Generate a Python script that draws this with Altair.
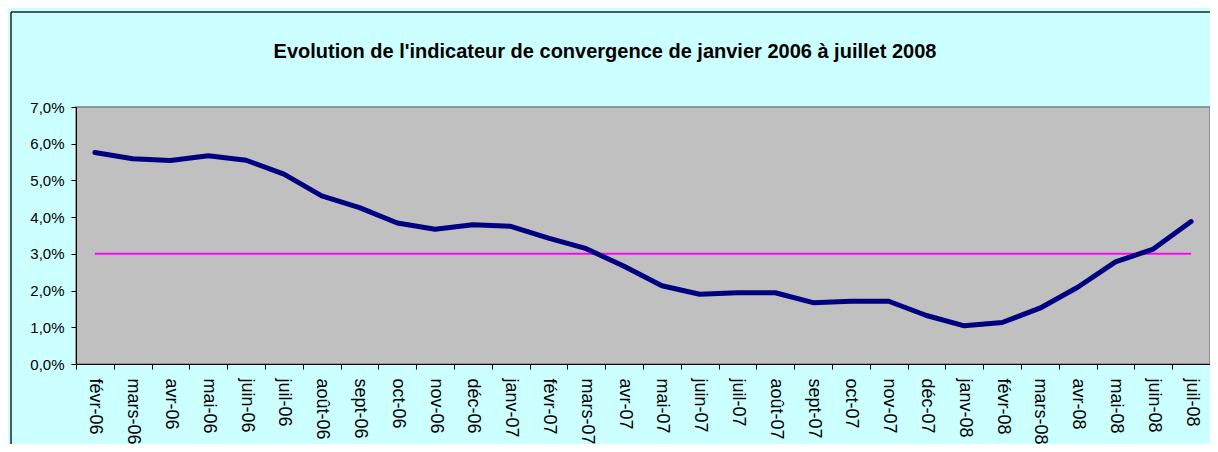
import altair as alt
import pandas as pd

mois = ["févr-06", "mars-06", "avr-06", "mai-06", "juin-06", "juil-06", "août-06",
        "sept-06", "oct-06", "nov-06", "déc-06", "janv-07", "févr-07", "mars-07",
        "avr-07", "mai-07", "juin-07", "juil-07", "août-07", "sept-07", "oct-07",
        "nov-07", "déc-07", "janv-08", "févr-08", "mars-08", "avr-08", "mai-08",
        "juin-08", "juil-08"]

indicateur = [5.76, 5.59, 5.54, 5.67, 5.55, 5.17, 4.58, 4.26, 3.84, 3.67,
              3.79, 3.75, 3.43, 3.14, 2.66, 2.13, 1.90, 1.94, 1.94, 1.67,
              1.71, 1.71, 1.32, 1.04, 1.13, 1.52, 2.09, 2.78, 3.13, 3.88]

seuil = [3.0] * len(mois)

df = pd.DataFrame({"mois": mois, "indicateur": indicateur, "seuil": seuil})

x_enc = alt.X(
    "mois:N",
    sort=mois,
    bandPosition=0.5,
    scale=alt.Scale(type="band", paddingInner=0, paddingOuter=0),
    axis=alt.Axis(
        title=None,
        labelAngle=90,
        tickBand="extent",
        tickSize=5,
        tickColor="black",
        domainColor="black",
        labelColor="black",
        labelFont="Liberation Sans",
        labelFontSize=18,
        labelPadding=9,
        labelOverlap=False,
    ),
)

y_scale = alt.Scale(domain=[0, 7], nice=False)
y_axis = alt.Axis(
    title=None,
    values=[0, 1, 2, 3, 4, 5, 6, 7],
    labelExpr="replace(format(datum.value, '.1f'), '.', ',') + '%'",
    grid=False,
    tickSize=5,
    tickColor="black",
    domainColor="black",
    labelColor="black",
    labelFont="Liberation Sans",
    labelFontSize=15,
    labelPadding=7,
)

base = alt.Chart(df)

seuil_line = base.mark_line(color="#FF00FF", strokeWidth=2).encode(
    x=x_enc,
    y=alt.Y("seuil:Q", scale=y_scale, axis=y_axis),
)

main_line = base.mark_line(
    color="#000080", strokeWidth=5, strokeCap="round", strokeJoin="round"
).encode(
    x=x_enc,
    y=alt.Y("indicateur:Q", scale=y_scale, axis=y_axis),
)

frame_data = alt.Data(values=[{"k": 1}])
frame_top = alt.Chart(frame_data).mark_rule(color="#222222", strokeWidth=1.5).encode(
    x=alt.value(-65), x2=alt.value(1140), y=alt.value(-95)
)
frame_left = alt.Chart(frame_data).mark_rule(color="#222222", strokeWidth=1.5).encode(
    x=alt.value(-65), y=alt.value(-95), y2=alt.value(340)
)

chart = (
    alt.layer(seuil_line, main_line, frame_top, frame_left)
    .properties(
        width=1134,
        height=257,
        background="#CCFFFF",
        padding={"left": 68, "top": 99, "right": 0, "bottom": 80},
        autosize=alt.AutoSizeParams(type="none"),
        title=alt.TitleParams(
            text="Evolution de l'indicateur de convergence de janvier 2006 à juillet 2008",
            font="Liberation Sans",
            fontSize=20,
            fontWeight="bold",
            color="black",
            anchor="middle",
            frame="group",
            dx=-38,
            offset=-51,
        ),
    )
    .configure_view(fill="#C0C0C0", stroke="#808080", strokeWidth=1.5)
)

chart.save("out.html", embed_options={"renderer": "svg", "actions": False})
